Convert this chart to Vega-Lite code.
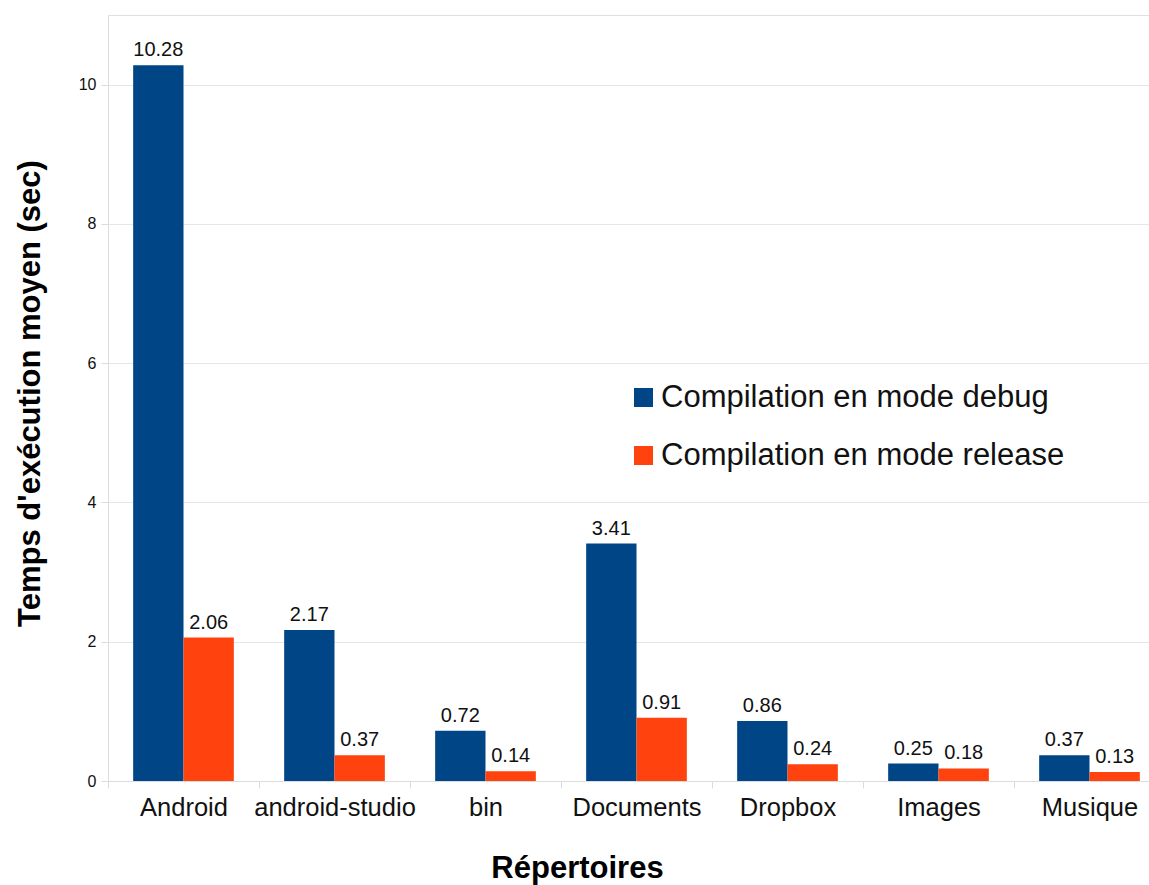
{
  "$schema": "https://vega.github.io/schema/vega-lite/v6.json",
  "width": 1042,
  "height": 766,
  "autosize": {"type": "none"},
  "padding": {"left": 108, "top": 15, "right": 0, "bottom": 104},
  "background": "white",
  "config": {
    "font": "Liberation Sans",
    "view": {"stroke": "#e0e0e0", "strokeWidth": 1}
  },
  "data": {
    "values": [
      {"rep": "Android", "mode": "Compilation en mode debug", "v": 10.28},
      {"rep": "Android", "mode": "Compilation en mode release", "v": 2.06},
      {"rep": "android-studio", "mode": "Compilation en mode debug", "v": 2.17},
      {"rep": "android-studio", "mode": "Compilation en mode release", "v": 0.37},
      {"rep": "bin", "mode": "Compilation en mode debug", "v": 0.72},
      {"rep": "bin", "mode": "Compilation en mode release", "v": 0.14},
      {"rep": "Documents", "mode": "Compilation en mode debug", "v": 3.41},
      {"rep": "Documents", "mode": "Compilation en mode release", "v": 0.91},
      {"rep": "Dropbox", "mode": "Compilation en mode debug", "v": 0.86},
      {"rep": "Dropbox", "mode": "Compilation en mode release", "v": 0.24},
      {"rep": "Images", "mode": "Compilation en mode debug", "v": 0.25},
      {"rep": "Images", "mode": "Compilation en mode release", "v": 0.18},
      {"rep": "Musique", "mode": "Compilation en mode debug", "v": 0.37},
      {"rep": "Musique", "mode": "Compilation en mode release", "v": 0.13}
    ]
  },
  "encoding": {
    "x": {
      "field": "rep",
      "type": "nominal",
      "sort": null,
      "scale": {"range": [0, 1057], "paddingInner": 0, "paddingOuter": 0},
      "axis": {
        "title": "Répertoires",
        "titleFont": "Liberation Sans",
        "titleFontSize": 31,
        "titleFontWeight": "bold",
        "titleColor": "#000000",
        "titleX": 469,
        "titleY": 96,
        "titleAnchor": null,
        "titleAlign": "center",
        "titleBaseline": "alphabetic",
        "labelAngle": 0,
        "labelFontSize": 25.5,
        "labelColor": "#111111",
        "labelPadding": 7,
        "tickBand": "extent",
        "tickSize": 7,
        "tickColor": "#dcdcdc",
        "domainColor": "#dcdcdc",
        "grid": false
      }
    },
    "xOffset": {
      "field": "mode",
      "type": "nominal",
      "scale": {"paddingInner": 0, "paddingOuter": 0.5}
    },
    "y": {
      "field": "v",
      "type": "quantitative",
      "scale": {"domain": [0, 11], "nice": false},
      "axis": {
        "title": "Temps d'exécution moyen (sec)",
        "titleFontSize": 31,
        "titleFontWeight": "bold",
        "titleColor": "#000000",
        "titleX": -78,
        "titleY": 378,
        "titleAnchor": null,
        "titleAlign": "center",
        "titleBaseline": "middle",
        "titleAngle": 270,
        "values": [0, 2, 4, 6, 8, 10],
        "labelFontSize": 16,
        "labelColor": "#111111",
        "labelPadding": 5,
        "tickSize": 7,
        "tickColor": "#dcdcdc",
        "gridColor": "#e6e6e6",
        "domainColor": "#dcdcdc"
      }
    }
  },
  "layer": [
    {
      "mark": {"type": "bar"},
      "encoding": {
        "color": {
          "field": "mode",
          "type": "nominal",
          "scale": {"range": ["#004586", "#ff420e"]},
          "legend": {
            "title": null,
            "orient": "none",
            "legendX": 520,
            "legendY": 367,
            "symbolType": "square",
            "symbolSize": 361,
            "symbolStrokeWidth": 0,
            "symbolOpacity": 1,
            "labelFontSize": 31,
            "labelLimit": 0,
            "labelColor": "#111111",
            "labelOffset": 2,
            "rowPadding": 26
          }
        }
      }
    },
    {
      "mark": {"type": "text", "baseline": "alphabetic", "dy": -9, "fontSize": 20, "color": "#111111"},
      "encoding": {
        "text": {"field": "v", "type": "quantitative", "format": ".2f"}
      }
    }
  ]
}
